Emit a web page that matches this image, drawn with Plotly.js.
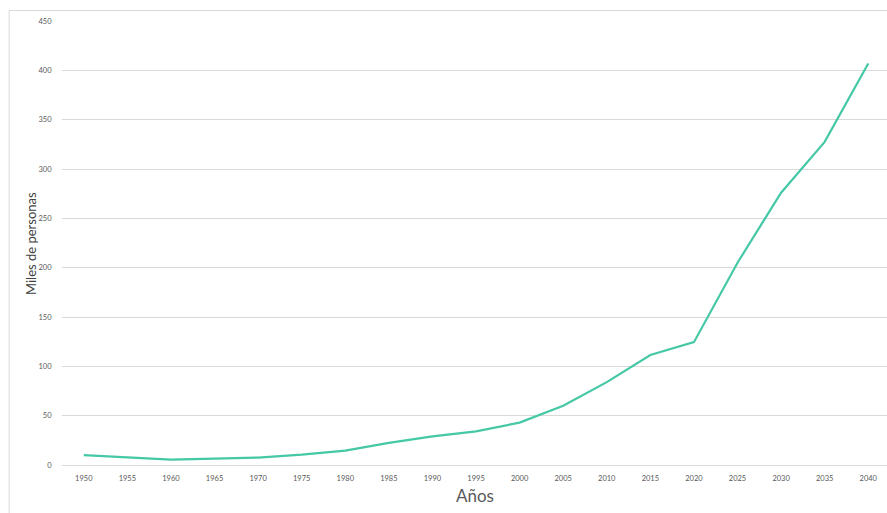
<!DOCTYPE html>
<html>
<head>
<meta charset="utf-8">
<script src="https://cdn.plot.ly/plotly-3.0.1.min.js"></script>
<style>html,body{margin:0;padding:0;background:#fff;}#chart{width:887px;height:513px;}</style>
</head>
<body>
<div id="chart"></div>
<script>
const years = ["1950","1955","1960","1965","1970","1975","1980","1985","1990","1995","2000","2005","2010","2015","2020","2025","2030","2035","2040"];
const personas = [10, 7.5, 5.5, 6.5, 7.5, 10.5, 14.5, 22.5, 29, 34, 43, 60, 84, 111.5, 124.5, 205, 276, 327.5, 407];
const yTicks = [0, 50, 100, 150, 200, 250, 300, 350, 400, 450];

const trace = {
  x: years,
  y: personas,
  type: 'scatter',
  mode: 'lines',
  line: {color: '#45c8a5', width: 2.2},
  hoverinfo: 'x+y'
};

const layout = {
  width: 887,
  height: 513,
  margin: {l: 62, r: 0, t: 21, b: 48},
  paper_bgcolor: '#ffffff',
  plot_bgcolor: '#ffffff',
  showlegend: false,
  font: {family: 'Lato, "Open Sans", sans-serif', color: '#595959'},
  xaxis: {
    type: 'category',
    range: [-0.5, 18.43],
    showgrid: false,
    zeroline: false,
    showline: false,
    ticks: 'outside',
    ticklen: 6,
    tickcolor: 'rgba(0,0,0,0)',
    tickfont: {size: 7.5, color: '#595959'},
    fixedrange: true
  },
  yaxis: {
    range: [0, 450],
    tickvals: yTicks,
    ticktext: yTicks.map(String),
    showgrid: true,
    gridcolor: '#d9d9d9',
    gridwidth: 1,
    zeroline: true,
    zerolinecolor: '#d9d9d9',
    zerolinewidth: 1,
    showline: false,
    ticks: 'outside',
    ticklen: 8,
    tickcolor: 'rgba(0,0,0,0)',
    tickfont: {size: 7.5, color: '#595959'},
    fixedrange: true
  },
  annotations: [{
    text: 'Miles de personas',
    xref: 'paper', yref: 'paper',
    x: -0.0376, y: 0.5,
    xanchor: 'center', yanchor: 'middle',
    textangle: -90,
    showarrow: false,
    font: {size: 13, color: '#404040'}
  }, {
    text: 'Años',
    xref: 'paper', yref: 'paper',
    x: 0.5, y: -0.0698,
    xanchor: 'center', yanchor: 'middle',
    showarrow: false,
    font: {size: 17, color: '#595959'}
  }],
  shapes: [{
    type: 'rect', xref: 'paper', yref: 'paper',
    x0: -0.064, x1: 1.02, y0: -0.13, y1: 1.0236,
    line: {color: '#d9d9d9', width: 1},
    fillcolor: 'rgba(0,0,0,0)',
    layer: 'below'
  }]
};

Plotly.newPlot('chart', [trace], layout, {displayModeBar: false, staticPlot: true});
</script>
</body>
</html>
